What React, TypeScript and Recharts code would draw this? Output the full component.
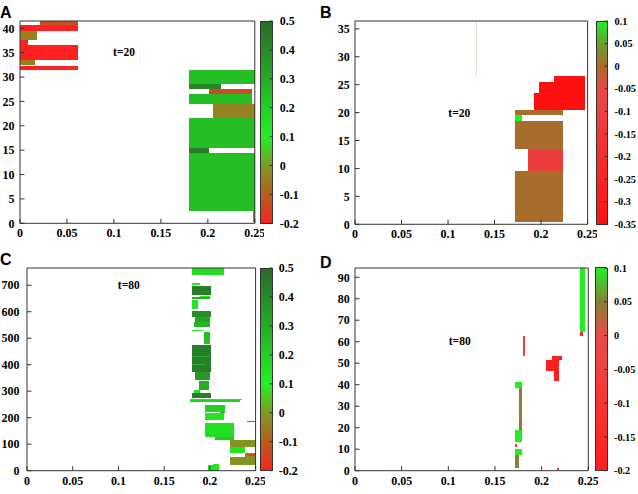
import React from 'react';
import { ComposedChart, XAxis, YAxis, ReferenceArea } from 'recharts';

type Stop = [number, string];

// ---------------- tick labels ----------------
const xTicks = [0, 0.05, 0.1, 0.15, 0.2, 0.25];
const yTicksA = [0, 5, 10, 15, 20, 25, 30, 35, 40];
const yTicksB = [0, 5, 10, 15, 20, 25, 30, 35];
const yTicksC = [0, 100, 200, 300, 400, 500, 600, 700];
const yTicksD = [0, 10, 20, 30, 40, 50, 60, 70, 80, 90];
const cbTicksA = [-0.2, -0.1, 0, 0.1, 0.2, 0.3, 0.4, 0.5];
const cbTicksB = [-0.35, -0.3, -0.25, -0.2, -0.15, -0.1, -0.05, 0, 0.05, 0.1];
const cbTicksC = [-0.2, -0.1, 0, 0.1, 0.2, 0.3, 0.4, 0.5];
const cbTicksD = [-0.2, -0.15, -0.1, -0.05, 0, 0.05, 0.1];

const xDomain: [number, number] = [0, 0.25];
const yDomainA: [number, number] = [0, 41.5];
const yDomainB: [number, number] = [0, 36.4];
const yDomainC: [number, number] = [0, 765];
const yDomainD: [number, number] = [0, 94.3];

// ---------------- colour palettes (value -> colour), highest first ----------------
const paletteAC: Stop[] = [
  [0.5, '#2a6a2a'],
  [0.1, '#22f022'],
  [0, '#7e9a22'],
  [-0.1, '#b4601e'],
  [-0.2, '#ff2020'],
];
const paletteB: Stop[] = [
  [0.1, '#22f022'],
  [0.05, '#68a030'],
  [0, '#a86c2c'],
  [-0.05, '#e84a4a'],
  [-0.35, '#ff1010'],
];
const paletteD: Stop[] = [
  [0.1, '#22ee22'],
  [0.05, '#88803a'],
  [0, '#e84c4c'],
  [-0.2, '#ff1e1e'],
];

// ---------------- cells: [x from, x to, y from, y to, value] ----------------
const cellsA: number[][] = [
  [0.021, 0.0616, 40.7, 41.5, -0.13],
  [0, 0.0616, 39.5, 40.7, -0.2],
  [0, 0.0176, 37.5, 39.5, -0.04],
  [0, 0.0085, 36.5, 37.5, -0.2],
  [0, 0.0616, 33.5, 36.5, -0.2],
  [0, 0.0155, 32.5, 33.5, -0.05],
  [0, 0.0616, 31.5, 32.3, -0.2],
  [0.18, 0.25, 28.5, 31.5, 0.25],
  [0.18, 0.2145, 27.5, 28.5, 0.42],
  [0.2013, 0.2465, 26.5, 27.5, -0.13],
  [0.18, 0.2465, 24.5, 26.5, 0.25],
  [0.205, 0.25, 21.5, 24.5, -0.04],
  [0.18, 0.25, 15.5, 21.5, 0.25],
  [0.18, 0.2013, 14.5, 15.5, 0.44],
  [0.18, 0.25, 2.5, 14.5, 0.25],
  [0.248, 0.25, 0.3, 2.5, -0.04],
];

const cellsB: number[][] = [
  [0.13, 0.1303, 26.4, 36.4, -0.01],
  [0.2142, 0.2472, 20.5, 26.5, -0.35],
  [0.1978, 0.2142, 20.5, 25.5, -0.35],
  [0.1924, 0.1978, 20.5, 23.5, -0.35],
  [0.1722, 0.2231, 19.5, 20.5, 0],
  [0.1722, 0.1792, 18.5, 19.5, 0.1],
  [0.1722, 0.2231, 13.5, 18.5, 0],
  [0.1855, 0.2231, 9.5, 13.5, -0.12],
  [0.1722, 0.2231, 0.5, 9.5, 0],
];

const cellsC: number[][] = [
  [0.18, 0.2158, 739, 765, 0.16],
  [0.18, 0.1895, 700, 710, 0.14],
  [0.18, 0.2009, 662, 697, 0.44],
  [0.1895, 0.2, 657, 660, 0.12],
  [0.18, 0.2, 647, 657, 0.3],
  [0.18, 0.1866, 612, 643, 0.13],
  [0.18, 0.2009, 580, 602, 0.4],
  [0.1841, 0.2, 561, 580, 0.32],
  [0.1822, 0.2, 542, 561, 0.28],
  [0.18, 0.193, 526, 530, 0.1],
  [0.1939, 0.2, 480, 524, 0.25],
  [0.18, 0.2009, 372, 476, 0.44],
  [0.18, 0.2, 430, 433, 0.3],
  [0.18, 0.195, 398, 401, 0.28],
  [0.1841, 0.2, 342, 372, 0.36],
  [0.1877, 0.1986, 305, 339, 0.3],
  [0.1822, 0.1895, 292, 305, 0.15],
  [0.18, 0.2009, 273, 292, 0.44],
  [0.1786, 0.2352, 267, 272, 0.14],
  [0.1786, 0.2334, 261, 266, 0.2],
  [0.195, 0.2167, 223, 248, 0.2],
  [0.2112, 0.2167, 217, 223, 0.3],
  [0.195, 0.215, 191, 217, 0.14],
  [0.195, 0.2425, 186, 189, 0.14],
  [0.2406, 0.2497, 182, 188, -0.13],
  [0.195, 0.226, 128, 179, 0.15],
  [0.206, 0.226, 116, 128, 0.22],
  [0.2223, 0.25, 91, 116, -0.01],
  [0.2223, 0.2387, 66, 91, 0.14],
  [0.2387, 0.25, 53, 66, -0.02],
  [0.241, 0.2497, 57, 63, -0.13],
  [0.2223, 0.25, 22, 53, -0.01],
  [0.1975, 0.2095, 0, 20, 0.14],
  [0.2035, 0.2095, 20, 25, 0.14],
];

const cellsD: number[][] = [
  [0.2414, 0.2468, 64.5, 94.3, 0.1],
  [0.2414, 0.244, 62.7, 64.5, -0.15],
  [0.1795, 0.1824, 53.4, 62.7, -0.08],
  [0.2111, 0.2218, 51.3, 53.4, -0.2],
  [0.205, 0.219, 46.4, 51.3, -0.2],
  [0.2128, 0.219, 41.6, 46.4, -0.2],
  [0.1718, 0.1789, 38.5, 41.3, 0.1],
  [0.1753, 0.1789, 18.8, 38.5, 0.05],
  [0.1718, 0.1789, 13.3, 18.8, 0.1],
  [0.1718, 0.1735, 11, 12.5, -0.1],
  [0.1718, 0.1789, 7.1, 10.2, 0.1],
  [0.1718, 0.1755, 1.4, 7.1, 0.05],
  [0.216, 0.2187, 0.3, 1.4, -0.15],
];

// ---------------- helpers ----------------
const SERIF = "'Liberation Serif', 'Times New Roman', serif";
const SANS = "'Liberation Sans', Arial, sans-serif";
const AXIS = '#333';

function hexToRgb(h: string) {
  const n = parseInt(h.slice(1), 16);
  return [(n >> 16) & 255, (n >> 8) & 255, n & 255];
}
function mix(a: string, b: string, t: number) {
  const A = hexToRgb(a);
  const B = hexToRgb(b);
  const c = A.map((v, i) => Math.round(v + (B[i] - v) * t));
  return `rgb(${c[0]},${c[1]},${c[2]})`;
}
function colorFor(v: number, stops: Stop[]) {
  if (v >= stops[0][0]) return stops[0][1];
  for (let i = 0; i < stops.length - 1; i++) {
    const [v0, c0] = stops[i];
    const [v1, c1] = stops[i + 1];
    if (v <= v0 && v >= v1) return mix(c0, c1, (v0 - v) / (v0 - v1));
  }
  return stops[stops.length - 1][1];
}

const tickStyle = { fill: '#000', fontSize: 12, fontFamily: SERIF, fontWeight: 700 };

type Geo = { L: number; R: number; T: number; B: number; yGap: number };

function Panel({ g, cells, yDomain, yTicks, stops }: { g: Geo; cells: number[][]; yDomain: [number, number]; yTicks: number[]; stops: Stop[] }) {
  const padL = 40, padT = 10, padR = 10, padB = 30;
  const w = g.R - g.L + padL + padR;
  const h = g.B - g.T + padT + padB;
  const ts = -4.5;
  // corner points of every cell feed the axes (domain stays fixed)
  const pts = cells.flatMap((c) => [{ x: c[0], y: c[2] }, { x: c[1], y: c[3] }]);
  return (
    <div style={{ position: 'absolute', left: g.L - padL, top: g.T - padT }}>
      <ComposedChart width={w} height={h} margin={{ top: 0, right: 0, bottom: 0, left: 0 }} data={pts}>
        <XAxis xAxisId={0} dataKey="x" orientation="bottom" type="number" domain={xDomain} ticks={xTicks} interval={0}
          height={padB} tickSize={ts} tickMargin={9.8} stroke={AXIS} tick={tickStyle} allowDataOverflow />
        <XAxis xAxisId="t" dataKey="x" orientation="top" type="number" domain={xDomain} ticks={xTicks} interval={0}
          height={padT} tickSize={ts} tick={false} stroke={AXIS} allowDataOverflow />
        <YAxis yAxisId={0} dataKey="y" orientation="left" type="number" domain={yDomain} ticks={yTicks} interval={0}
          width={padL} tickSize={ts} tickMargin={g.yGap + 4.5} stroke={AXIS} tick={tickStyle} allowDataOverflow />
        <YAxis yAxisId="r" dataKey="y" orientation="right" type="number" domain={yDomain} ticks={yTicks} interval={0}
          width={padR} tickSize={ts} tick={false} stroke={AXIS} allowDataOverflow />
        {cells.map((c, i) => (
          <ReferenceArea key={i} xAxisId={0} yAxisId={0} x1={c[0]} x2={c[1]} y1={c[2]} y2={c[3]}
            className={c[1] - c[0] < 0.001 ? 'hairline' : undefined}
            fill={colorFor(c[4], stops)} fillOpacity={1} stroke="none" ifOverflow="visible" />
        ))}
      </ComposedChart>
    </div>
  );
}

function ColorBar({ id, x, w, T, B, stops, ticks, gap, fs }: { id: string; x: number; w: number; T: number; B: number; stops: Stop[]; ticks: number[]; gap: number; fs: number }) {
  const padT = 10, padB = 10, axisW = 50;
  const max = stops[0][0];
  const min = stops[stops.length - 1][0];
  const pts = stops.map((s, i) => ({ x: i / (stops.length - 1), y: s[0] }));
  return (
    <div style={{ position: 'absolute', left: x, top: T - padT }}>
      <ComposedChart width={w + axisW} height={B - T + padT + padB} margin={{ top: padT, bottom: padB, left: 0, right: 0 }} data={pts}>
        <defs>
          <linearGradient id={id} x1="0" y1="0" x2="0" y2="1">
            {stops.map(([v, c], i) => (
              <stop key={i} offset={(max - v) / (max - min)} stopColor={c} />
            ))}
          </linearGradient>
        </defs>
        <XAxis dataKey="x" type="number" domain={[0, 1]} hide allowDataOverflow />
        <YAxis dataKey="y" orientation="right" type="number" domain={[min, max]} ticks={ticks} interval={0} width={axisW}
          tickSize={-3} tickMargin={gap + 3} axisLine={false} stroke={AXIS} tick={{ ...tickStyle, fontSize: fs }} allowDataOverflow />
        <ReferenceArea x1={0} x2={1} y1={min} y2={max} fill={`url(#${id})`} fillOpacity={1} stroke={AXIS} strokeWidth={1} ifOverflow="visible" />
      </ComposedChart>
    </div>
  );
}

const gA: Geo = { L: 19.5, R: 254.3, T: 21, B: 223.3, yGap: 5.5 };
const gB: Geo = { L: 354.7, R: 587.3, T: 20.7, B: 224, yGap: 5.2 };
const gC: Geo = { L: 26.7, R: 255.3, T: 268, B: 470.7, yGap: 7.5 };
const gD: Geo = { L: 354.7, R: 588, T: 268, B: 470.7, yGap: 5.2 };

export default function App() {
  return (
    <div style={{ position: 'absolute', left: 0, top: 0, width: 638, height: 494, background: '#fff', overflow: 'hidden' }}>
      <style>{'.recharts-reference-area-rect{shape-rendering:crispEdges}.hairline .recharts-reference-area-rect{shape-rendering:auto}'}</style>
      <Panel g={gA} cells={cellsA} yDomain={yDomainA} yTicks={yTicksA} stops={paletteAC} />
      <Panel g={gB} cells={cellsB} yDomain={yDomainB} yTicks={yTicksB} stops={paletteB} />
      <Panel g={gC} cells={cellsC} yDomain={yDomainC} yTicks={yTicksC} stops={paletteAC} />
      <Panel g={gD} cells={cellsD} yDomain={yDomainD} yTicks={yTicksD} stops={paletteD} />
      <ColorBar id="cbA" x={260} w={12.7} T={21} B={223.3} stops={paletteAC} ticks={cbTicksA} gap={7} fs={12} />
      <ColorBar id="cbB" x={595.7} w={11.6} T={20.7} B={224} stops={paletteB} ticks={cbTicksB} gap={7} fs={10.3} />
      <ColorBar id="cbC" x={260.3} w={12.4} T={268} B={470.7} stops={paletteAC} ticks={cbTicksC} gap={6.4} fs={12} />
      <ColorBar id="cbD" x={595.3} w={12} T={268} B={470.7} stops={paletteD} ticks={cbTicksD} gap={7} fs={10.3} />
      <svg width={638} height={494} style={{ position: 'absolute', left: 0, top: 0, pointerEvents: 'none' }}>
        <g fontFamily={SANS} fontWeight={700} fontSize={16} fill="#000">
          <text x={0} y={18.3}>A</text>
          <text x={320} y={18.3}>B</text>
          <text x={0} y={265}>C</text>
          <text x={320} y={268}>D</text>
        </g>
        <g fontFamily={SERIF} fontWeight={700} fontSize={11.5} fill="#000" textAnchor="middle">
          <text x={124} y={56}>t=20</text>
          <text x={459.3} y={116.7}>t=20</text>
          <text x={128.8} y={289}>t=80</text>
          <text x={459.7} y={345}>t=80</text>
        </g>
      </svg>
    </div>
  );
}
